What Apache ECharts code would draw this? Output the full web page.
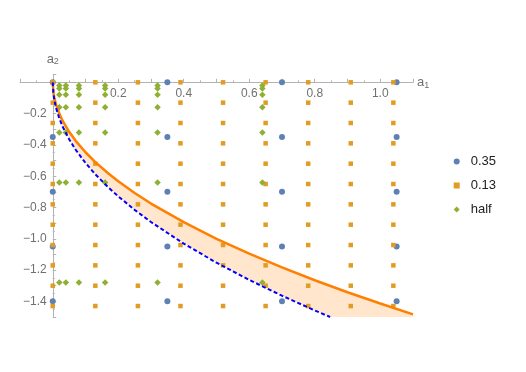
<!DOCTYPE html>
<html>
<head>
<meta charset="utf-8">
<script src="https://cdn.jsdelivr.net/npm/echarts@6/dist/echarts.min.js"></script>
<style>html,body{margin:0;padding:0;background:#fff}#c{width:526px;height:372px}</style>
</head>
<body>
<div id="c"></div>
<script>
// Scatter grids (columns x rows)
const blueCols = [0, 0.35, 0.70, 1.05];
const blueRows = [0, -0.35, -0.70, -1.05, -1.40];
const orangeCols = [0, 0.13, 0.26, 0.39, 0.52, 0.65, 0.78, 0.91, 1.04];
const orangeRows = [0, -0.13, -0.26, -0.39, -0.52, -0.65, -0.78, -0.91, -1.04, -1.17, -1.30, -1.43];
const greenCols = [0.02, 0.04, 0.08, 0.16, 0.32, 0.64];
const greenRows = [-0.02, -0.04, -0.08, -0.16, -0.32, -0.64, -1.28];

// Upper boundary curve (solid orange)
const upperX = [0, 0.002, 0.005, 0.01, 0.02, 0.03, 0.05, 0.07, 0.1, 0.13, 0.17, 0.2, 0.25, 0.3, 0.4, 0.5, 0.6, 0.7, 0.8, 0.9, 1.0, 1.1];
const upperY = [0, -0.063, -0.100, -0.141, -0.200, -0.245, -0.316, -0.374, -0.447, -0.510, -0.583, -0.632, -0.707, -0.775, -0.894, -1.000, -1.095, -1.183, -1.265, -1.342, -1.414, -1.483];
// Lower boundary curve (dashed blue)
const lowerX = [0, 0.002, 0.005, 0.01, 0.02, 0.03, 0.05, 0.07, 0.1, 0.13, 0.17, 0.2, 0.25, 0.3, 0.4, 0.5, 0.6, 0.7, 0.8, 0.847];
const lowerY = [0, -0.073, -0.115, -0.163, -0.231, -0.282, -0.364, -0.431, -0.515, -0.588, -0.672, -0.729, -0.815, -0.893, -1.031, -1.153, -1.263, -1.364, -1.458, -1.500];

const legendNames = ['0.35', '0.13', 'half'];

const X_MIN = -0.1, X_MAX = 1.1, Y_MIN = -1.5, Y_MAX = 0.05;
const G_LEFT = 20, G_TOP = 74.5, G_W = 393, G_H = 242.5;
// place axes through the origin
const xAxisOffset = -(Y_MAX / (Y_MAX - Y_MIN)) * G_H;
const yAxisOffset = -((0 - X_MIN) / (X_MAX - X_MIN)) * G_W;

function grid(cols, rows) {
  const out = [];
  cols.forEach(x => rows.forEach(y => out.push([x, y])));
  return out;
}
function pairs(xs, ys) { return xs.map((x, i) => [x, ys[i]]); }

function fmt(v) {
  const k = Math.round(v / 0.2);
  if (k === 0 || Math.abs(v - k * 0.2) > 1e-6) return '';
  return (k * 0.2).toFixed(1).replace('-', '\u2212');
}

const chart = echarts.init(document.getElementById('c'), null, {renderer: 'canvas'});
const gray = '#b3b3b3';
const labelColor = '#707070';
const fontFamily = 'Liberation Sans, Arial, sans-serif';

chart.setOption({
  animation: false,
  backgroundColor: '#fff',
  grid: {left: G_LEFT, top: G_TOP, width: G_W, height: G_H, containLabel: false, outerBoundsMode: 'none'},
  legend: {
    orient: 'vertical', left: 448.7, top: 150,
    itemWidth: 6, itemHeight: 6, itemGap: 11,
    data: legendNames,
    textStyle: {fontSize: 13, color: '#222', fontFamily: fontFamily, padding: [0, 0, 0, 6]}
  },
  xAxis: {
    type: 'value', min: X_MIN, max: X_MAX, interval: 0.1,
    position: 'top', offset: xAxisOffset,
    splitLine: {show: false},
    axisLine: {onZero: false, lineStyle: {color: gray, width: 1}},
    axisTick: {show: true, inside: false, length: 3.5, lineStyle: {color: gray}},
    minorTick: {show: true, splitNumber: 2, length: 2, lineStyle: {color: gray}},
    axisLabel: {inside: true, formatter: fmt, color: labelColor, fontSize: 12, margin: 5, fontFamily: fontFamily},
    name: '{a|a}{s|1}', nameLocation: 'end', nameGap: 4,
    nameTextStyle: {verticalAlign: 'middle', rich: {a: {fontSize: 13, color: labelColor, fontFamily: fontFamily}, s: {fontSize: 9, color: labelColor, fontFamily: fontFamily, padding: [6, 0, 0, 0]}}}
  },
  yAxis: {
    type: 'value', min: Y_MIN, max: Y_MAX, interval: 0.1,
    position: 'left', offset: yAxisOffset,
    splitLine: {show: false},
    axisLine: {onZero: false, lineStyle: {color: gray, width: 1}},
    axisTick: {show: true, inside: true, length: 3.5, lineStyle: {color: gray}},
    minorTick: {show: true, splitNumber: 2, length: 2, lineStyle: {color: gray}},
    axisLabel: {formatter: fmt, color: labelColor, fontSize: 12, margin: 6, fontFamily: fontFamily},
    name: '{a|a}{s|2}', nameLocation: 'end', nameGap: 8,
    nameTextStyle: {align: 'center', rich: {a: {fontSize: 13, color: labelColor, fontFamily: fontFamily}, s: {fontSize: 9, color: labelColor, fontFamily: fontFamily, padding: [6, 0, 0, 0]}}}
  },
  series: [
    {
      type: 'custom', name: 'region', z: 1, silent: true,
      data: [0],
      renderItem: function (params, api) {
        const pts = [];
        for (let i = 0; i < upperX.length; i++) pts.push(api.coord([upperX[i], upperY[i]]));
        pts.push(api.coord([X_MAX, Y_MIN]));
        for (let i = lowerX.length - 1; i >= 0; i--) pts.push(api.coord([lowerX[i], lowerY[i]]));
        return {type: 'polygon', shape: {points: pts}, style: {fill: 'rgba(255,128,0,0.2)', stroke: null}};
      }
    },
    {
      type: 'scatter', name: legendNames[0], z: 3, symbol: 'circle', symbolSize: 6,
      itemStyle: {color: '#5E81B5', opacity: 1}, data: grid(blueCols, blueRows)
    },
    {
      type: 'scatter', name: legendNames[1], z: 3, symbol: 'rect', symbolSize: 4.5,
      itemStyle: {color: '#E19C24', opacity: 1}, data: grid(orangeCols, orangeRows)
    },
    {
      type: 'scatter', name: legendNames[2], z: 3, symbol: 'diamond', symbolSize: 6.5,
      itemStyle: {color: '#8FB032', opacity: 1}, data: grid(greenCols, greenRows)
    },
    {
      type: 'line', name: 'upper', z: 5, showSymbol: false, symbol: 'none', smooth: false,
      lineStyle: {color: '#FF8000', width: 2.5}, data: pairs(upperX, upperY)
    },
    {
      type: 'line', name: 'lower', z: 5, showSymbol: false, symbol: 'none', smooth: false,
      lineStyle: {color: '#0000FF', width: 2, type: [4, 2.5]}, data: pairs(lowerX, lowerY)
    }
  ]
});
</script>
</body>
</html>
